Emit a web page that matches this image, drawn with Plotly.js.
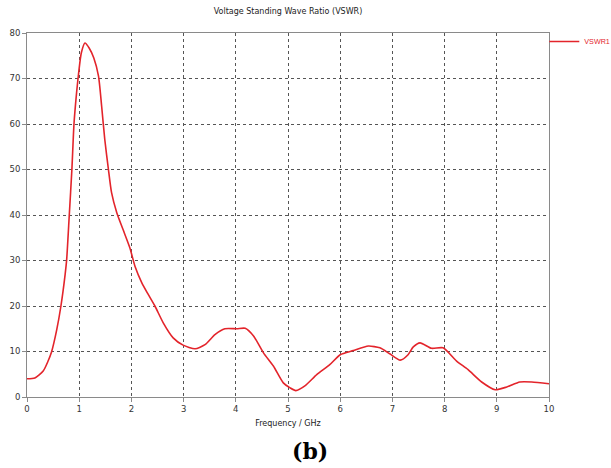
<!DOCTYPE html>
<html>
<head>
<meta charset="utf-8">
<script src="https://cdn.plot.ly/plotly-3.0.1.min.js"></script>
<style>html,body{margin:0;padding:0;background:#fff;}#chart{width:611px;height:468px;}</style>
</head>
<body>
<div id="chart"></div>
<script>
const frequency = [0, 0.15, 0.31, 0.40, 0.47, 0.57, 0.65, 0.73, 0.76, 0.81, 0.86, 0.90, 0.95, 0.99, 1.04, 1.11, 1.19, 1.28, 1.37, 1.43, 1.49, 1.56, 1.62, 1.72, 1.84, 1.97, 2.07, 2.20, 2.32, 2.45, 2.61, 2.80, 2.99, 3.22, 3.41, 3.60, 3.79, 4.02, 4.18, 4.34, 4.53, 4.72, 4.91, 5.04, 5.15, 5.33, 5.55, 5.80, 6.00, 6.25, 6.54, 6.76, 6.95, 7.15, 7.30, 7.40, 7.53, 7.75, 7.97, 8.23, 8.45, 8.71, 8.97, 9.19, 9.44, 9.67, 10.0];
const vswr1 = [4.0, 4.2, 5.7, 7.8, 9.9, 14.8, 20.0, 26.9, 30.2, 40.0, 50.0, 60.0, 66.9, 71.3, 75.6, 77.8, 76.7, 74.5, 70.5, 63.9, 56.6, 50.0, 44.9, 40.5, 36.8, 32.8, 28.7, 25.1, 22.6, 20.0, 16.3, 13.0, 11.4, 10.6, 11.5, 13.7, 15.0, 15.0, 15.1, 13.4, 9.7, 6.8, 3.1, 2.0, 1.4, 2.5, 4.9, 7.1, 9.3, 10.2, 11.2, 10.8, 9.5, 8.1, 9.3, 11.0, 11.9, 10.7, 10.8, 7.9, 6.0, 3.3, 1.6, 2.2, 3.3, 3.3, 2.9];
const xTicks = [0,1,2,3,4,5,6,7,8,9,10];
const yTicks = [0,10,20,30,40,50,60,70,80];

const font = '"DejaVu Sans", "Liberation Sans", sans-serif';

const trace = {
  x: frequency, y: vswr1, type: 'scatter', mode: 'lines', name: 'VSWR1',
  line: {color: '#e3242b', width: 1.6, shape: 'spline', smoothing: 0.6}
};

const axisCommon = {
  showline: true, linecolor: '#8a8a8a', linewidth: 1, mirror: true,
  showgrid: true, gridcolor: '#555555', griddash: 'dot', gridwidth: 1,
  zeroline: false, ticks: 'outside', ticklen: 4, tickcolor: '#8a8a8a',
  tickfont: {family: font, size: 8.5, color: '#333333'}
};

const layout = {
  width: 611, height: 468,
  margin: {l: 27, r: 62, t: 33, b: 71, autoexpand: false},
  paper_bgcolor: '#ffffff', plot_bgcolor: '#ffffff',
  title: {text: 'Voltage Standing Wave Ratio (VSWR)', font: {family: font, size: 8, color: '#222222'},
          x: 0.5, xref: 'paper', xanchor: 'center', y: 0.977, yref: 'container', yanchor: 'middle'},
  xaxis: Object.assign({}, axisCommon, {
    range: [0, 10], tickvals: xTicks, ticktext: xTicks.map(String),
    title: {text: 'Frequency / GHz', font: {family: font, size: 8, color: '#222222'}, standoff: 7}
  }),
  yaxis: Object.assign({}, axisCommon, {
    range: [0, 80], tickvals: yTicks, ticktext: yTicks.map(String), ticklen: 4
  }),
  showlegend: true,
  legend: {x: 0.991, xanchor: 'left', y: 1.0165, yanchor: 'top',
           font: {family: '"Liberation Sans", Arial, sans-serif', size: 7.2, color: '#e3242b'},
           bgcolor: 'rgba(0,0,0,0)', borderwidth: 0, itemwidth: 30},
  annotations: [{
    text: '<b>(b)</b>', xref: 'paper', yref: 'paper', x: 0.542, y: -0.148,
    xanchor: 'center', yanchor: 'middle', showarrow: false,
    font: {family: '"DejaVu Serif", "Liberation Serif", serif', size: 22, color: '#000000'}
  }]
};

Plotly.newPlot('chart', [trace], layout, {staticPlot: true, displayModeBar: false});
</script>
</body>
</html>
